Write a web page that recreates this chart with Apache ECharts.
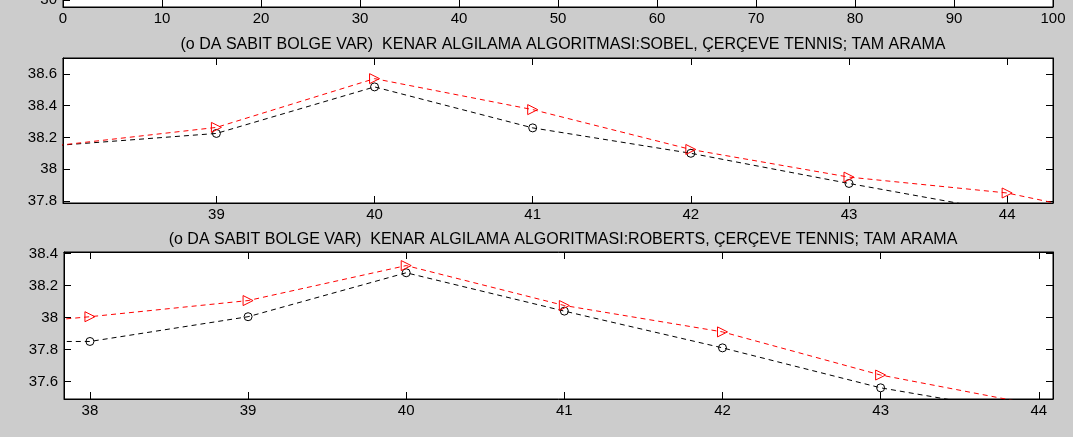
<!DOCTYPE html>
<html>
<head>
<meta charset="utf-8">
<script src="https://cdn.jsdelivr.net/npm/echarts@6/dist/echarts.min.js"></script>
<style>
html,body{margin:0;padding:0;background:#cccccc;}
#chart{width:1073px;height:437px;}
</style>
</head>
<body>
<div id="chart"></div>
<script>
// data
var topTicks = [0,10,20,30,40,50,60,70,80,90,100];

var sobelX = [38,39,40,41,42,43,44,45];
var sobelRed = [38.15,38.263,38.57,38.375,38.124,37.95,37.85,37.64];
var sobelBlack = [38.15,38.225,38.518,38.26,38.10,37.91,37.73,37.55];
var sobelXTicks = [39,40,41,42,43,44];
var sobelYTicks = [37.8,38,38.2,38.4,38.6];

var robertsX = [37,38,39,40,41,42,43,44];
var robertsRed = [37.915,38.005,38.106,38.325,38.075,37.91,37.64,37.45];
var robertsBlack = [37.85,37.85,38.005,38.28,38.04,37.81,37.56,37.39];
var robertsXTicks = [38,39,40,41,42,43,44];
var robertsYTicks = [37.6,37.8,38,38.2,38.4];

var title1 = '(o DA SABIT BOLGE VAR)  KENAR ALGILAMA ALGORITMASI:SOBEL, ÇERÇEVE TENNIS; TAM ARAMA';
var title2 = '(o DA SABIT BOLGE VAR)  KENAR ALGILAMA ALGORITMASI:ROBERTS, ÇERÇEVE TENNIS; TAM ARAMA';

function pairs(xs, ys){
    return xs.map(function(x,i){ return [x, ys[i]]; });
}

var font = 'Liberation Sans';
var fs = 15;

function xAx(grid, min, max, ticks, pos, showLabel){
    return {
        type:'value', gridIndex:grid, min:min, max:max, position:pos,
        axisLine:{show:true, onZero:false, lineStyle:{color:'#000', width:1}},
        axisTick:{show:true, inside:true, length:7, customValues:ticks, lineStyle:{color:'#000'}},
        axisLabel:{show:showLabel, customValues:ticks, color:'#000', fontFamily:font, fontSize:fs, margin:4},
        splitLine:{show:false}
    };
}
function yAx(grid, min, max, ticks, pos, showLabel){
    return {
        type:'value', gridIndex:grid, min:min, max:max, position:pos,
        axisLine:{show:true, onZero:false, lineStyle:{color:'#000', width:1}},
        axisTick:{show:true, inside:true, length:7, customValues:ticks, lineStyle:{color:'#000'}},
        axisLabel:{show:showLabel, customValues:ticks, color:'#000', fontFamily:font, fontSize:fs, margin:6},
        splitLine:{show:false}
    };
}

function lineSeries(xi, yi, data, color, symbol){
    return {
        type:'line', xAxisIndex:xi, yAxisIndex:yi, data:data,
        symbol:symbol, symbolSize: symbol === 'triangle' ? 10 : 8,
        symbolRotate: symbol === 'triangle' ? -90 : 0,
        showAllSymbol:true, clip:true, animation:false,
        lineStyle:{color:color, width:1, type:[5,4]},
        itemStyle:{color:'rgba(0,0,0,0)', borderColor:color, borderWidth:1}
    };
}

function gridBox(left, top, width, height){
    return {left:left, top:top, width:width, height:height, show:true,
        backgroundColor:'#fff', borderColor:'#000', borderWidth:1,
        containLabel:false, outerBoundsMode:'none'};
}

var myChart = echarts.init(document.getElementById('chart'));
var option = {
    backgroundColor:'#cccccc',
    animation:false,
    title:[
        {text:title1, left:558, top:32, textAlign:'center',
         textStyle:{color:'#000', fontFamily:font, fontSize:16, fontWeight:'normal'}},
        {text:title2, left:558, top:227, textAlign:'center',
         textStyle:{color:'#000', fontFamily:font, fontSize:16, fontWeight:'normal'}}
    ],
    grid:[
        gridBox(63, -93, 990, 100),
        gridBox(63, 58, 990, 145),
        gridBox(64, 252, 989, 147)
    ],
    xAxis:[
        xAx(0, 0, 100, topTicks, 'bottom', true),
        xAx(1, 38.03, 44.29, sobelXTicks, 'bottom', true),
        xAx(1, 38.03, 44.29, sobelXTicks, 'top', false),
        xAx(2, 37.836, 44.09, robertsXTicks, 'bottom', true),
        xAx(2, 37.836, 44.09, robertsXTicks, 'top', false)
    ],
    yAxis:[
        yAx(0, 29.5, 36.6, [30], 'left', true),
        yAx(1, 37.787, 38.70, sobelYTicks, 'left', true),
        yAx(1, 37.787, 38.70, sobelYTicks, 'right', false),
        yAx(2, 37.49, 38.41, robertsYTicks, 'left', true),
        yAx(2, 37.49, 38.41, robertsYTicks, 'right', false)
    ],
    series:[
        lineSeries(1, 1, pairs(sobelX, sobelBlack), '#000000', 'circle'),
        lineSeries(1, 1, pairs(sobelX, sobelRed), '#ff0000', 'triangle'),
        lineSeries(3, 3, pairs(robertsX, robertsBlack), '#000000', 'circle'),
        lineSeries(3, 3, pairs(robertsX, robertsRed), '#ff0000', 'triangle')
    ]
};
myChart.setOption(option);
</script>
</body>
</html>
